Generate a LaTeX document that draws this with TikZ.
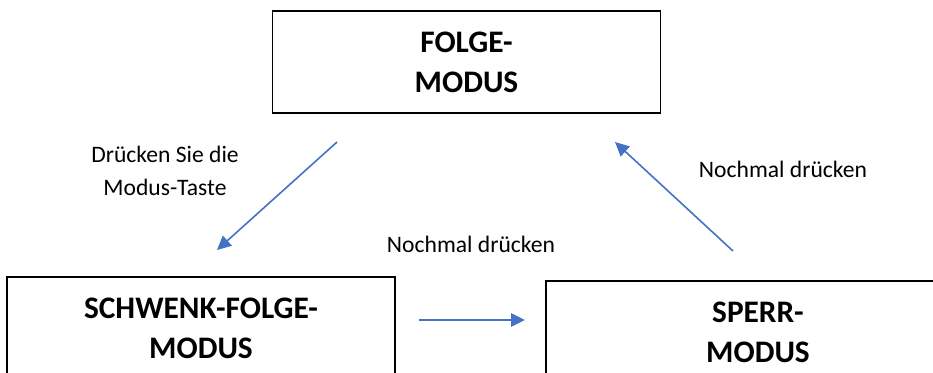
\documentclass[tikz,border=0pt]{standalone}
\usepackage{fontspec}
\setmainfont{Carlito}
\usetikzlibrary{arrows.meta}
\definecolor{arrowblue}{RGB}{68,114,196}
\tikzset{
  modebox/.style={draw=black, line width=0.9pt, fill=white, inner sep=0pt,
    minimum height=76.5pt, align=center,
    font=\bfseries\fontsize{23.5}{30}\selectfont},
  lbl/.style={align=center, inner sep=0pt, font=\fontsize{17.7}{24.75}\selectfont},
  flow/.style={draw=arrowblue, line width=1.2pt, -{Triangle[length=10.5pt,width=10pt]}}
}
\begin{document}
\begin{tikzpicture}[x=0.75pt,y=-0.75pt]
\useasboundingbox (0,0) rectangle (933,372);
\fill[white] (0,0) rectangle (933,372);
\clip (0,0) rectangle (933,372);
\node[modebox, minimum width=291pt] (folge) at (466.5,62) {FOLGE-\\MODUS};
\node[modebox, minimum width=291pt] (schwenk) at (201,328) {SCHWENK-FOLGE-\\MODUS};
\node[modebox, minimum width=318pt] (sperr) at (758,332) {SPERR-\\MODUS};
\coordinate (a1s) at (337,142);
\coordinate (a1e) at (217,250);
\coordinate (a2s) at (419,320);
\coordinate (a2e) at (525,320);
\coordinate (a3s) at (733,251);
\coordinate (a3e) at (615,142);
\draw[flow] (a1s) -- (a1e);
\draw[flow] (a2s) -- (a2e);
\draw[flow] (a3s) -- (a3e);
\node[lbl] (l1) at (165,171) {Drücken Sie die\\Modus-Taste};
\node[lbl] (l2) at (471,244) {Nochmal drücken};
\node[lbl] (l3) at (783,169) {Nochmal drücken};
\end{tikzpicture}
\end{document}
